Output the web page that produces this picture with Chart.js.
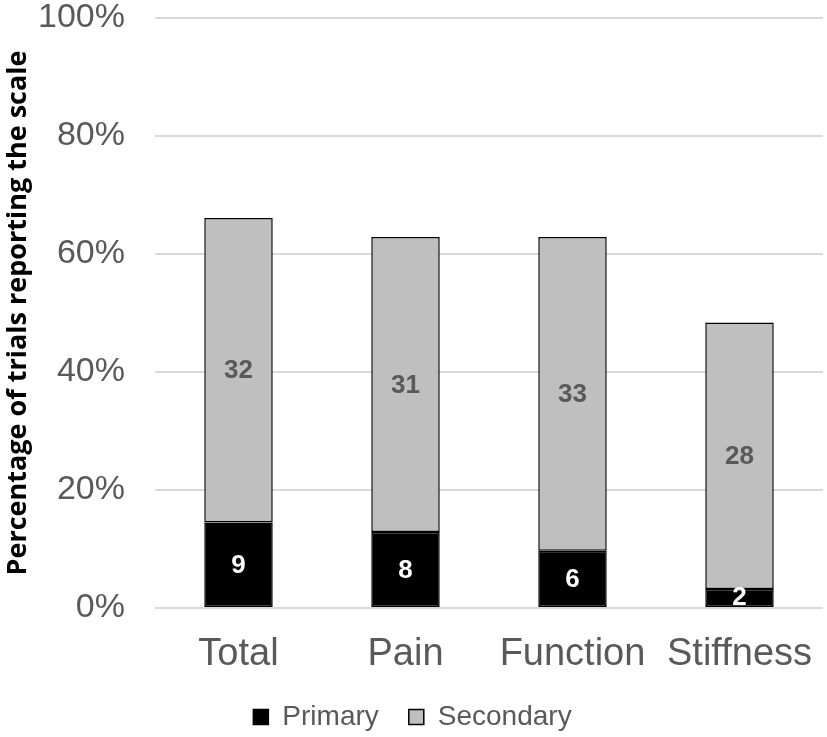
<!DOCTYPE html>
<html>
<head>
<meta charset="utf-8">
<script src="https://cdn.jsdelivr.net/npm/chart.js@4"></script>
<style>
  html, body { margin: 0; padding: 0; background: #fff; }
</style>
</head>
<body>
<canvas id="chart" width="827" height="737"></canvas>
<script>
var categories = ["Total", "Pain", "Function", "Stiffness"];
var primaryPct = [14.5, 12.9, 9.7, 3.2];
var secondaryPct = [51.6, 50.0, 53.2, 45.2];
var primaryCount = [9, 8, 6, 2];
var secondaryCount = [32, 31, 33, 28];

// draw the counts in the middle of each segment
var countLabels = {
    id: 'countLabels',
    afterDatasetsDraw: function(chart) {
        var ctx = chart.ctx;
        ctx.save();
        ctx.font = 'bold 26px "Liberation Sans", Arial, sans-serif';
        ctx.textAlign = 'center';
        ctx.textBaseline = 'middle';
        chart.data.datasets.forEach(function(ds, i) {
            var meta = chart.getDatasetMeta(i);
            meta.data.forEach(function(bar, j) {
                var y = (bar.y + bar.base) / 2;
                if (i == 0 && j == 3) y = bar.y + 8;
                ctx.fillStyle = ds.labelColor;
                ctx.fillText(ds.counts[j], bar.x, y + 1);
            });
        });
        ctx.restore();
    }
};

new Chart(document.getElementById('chart'), {
    type: 'bar',
    data: {
        labels: categories,
        datasets: [{
            label: 'Primary',
            data: primaryPct,
            counts: primaryCount,
            labelColor: '#ffffff',
            backgroundColor: '#000000',
            borderColor: '#000000',
            borderWidth: 1.5,
            borderSkipped: false
        }, {
            label: 'Secondary',
            data: secondaryPct,
            counts: secondaryCount,
            labelColor: '#595959',
            backgroundColor: '#bfbfbf',
            borderColor: '#000000',
            borderWidth: 1.5,
            borderSkipped: false
        }]
    },
    options: {
        responsive: false,
        animation: false,
        layout: { autoPadding: false, padding: { top: 18, right: 4, left: 2, bottom: -4 } },
        datasets: { bar: { barPercentage: 0.41, categoryPercentage: 1 } },
        scales: {
            x: {
                stacked: true,
                grid: { display: false, drawTicks: false },
                border: { display: false },
                ticks: {
                    maxRotation: 0,
                    color: '#595959',
                    padding: 24,
                    font: { family: '"Liberation Sans", Arial, sans-serif', size: 38 }
                },
                afterFit: function(scale) {
                    scale.height = 65;
                    scale.paddingLeft = 0;
                    scale.paddingRight = 0;
                }
            },
            y: {
                stacked: true,
                min: 0,
                max: 100,
                grid: { color: '#d9d9d9', lineWidth: 2, drawTicks: false },
                border: { display: false },
                ticks: {
                    stepSize: 20,
                    color: '#595959',
                    padding: 30,
                    font: { family: '"Liberation Sans", Arial, sans-serif', size: 34 },
                    callback: function(v) { return v + '%'; }
                },
                title: {
                    display: true,
                    text: 'Percentage of trials reporting the scale',
                    color: '#000000',
                    padding: { top: 0, bottom: 0 },
                    font: { family: '"Open Sans", sans-serif', size: 27, weight: 'bold' }
                },
                afterFit: function(scale) {
                    scale.width = 153;
                    scale.paddingTop = 0;
                    scale.paddingBottom = 0;
                }
            }
        },
        plugins: {
            legend: {
                position: 'bottom',
                labels: {
                    color: '#595959',
                    boxWidth: 15,
                    boxHeight: 15,
                    padding: 30,
                    font: { family: '"Liberation Sans", Arial, sans-serif', size: 28 }
                }
            },
            tooltip: { enabled: false }
        }
    },
    plugins: [countLabels]
});
</script>
</body>
</html>
